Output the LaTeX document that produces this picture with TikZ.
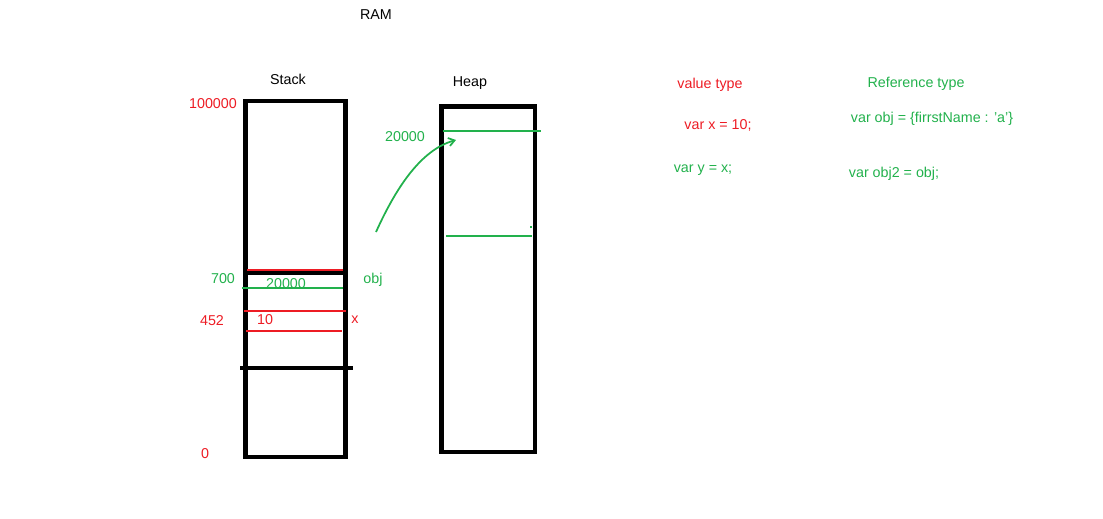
\documentclass[tikz,border=0pt]{standalone}
\usepackage{fontspec}
\setmainfont{Liberation Sans}
\usetikzlibrary{arrows.meta}
\definecolor{rouge}{RGB}{237,28,36}
\definecolor{vert}{RGB}{34,177,76}

\begin{document}
\begin{tikzpicture}[x=0.03cm,y=-0.03cm,
   bloc/.style={draw,line width=3.6pt},
   ligne rouge/.style={draw=rouge,line width=1.7pt},
   ligne verte/.style={draw=vert,line width=1.7pt},
   separation/.style={draw,line width=3.6pt},
   etiquette/.style={inner sep=0pt,font=\fontsize{12.2}{14}\selectfont},
   rouge txt/.style={etiquette,text=rouge},
   vert txt/.style={etiquette,text=vert}]

  \useasboundingbox (0,0) rectangle (1103,518);

  % titres
  \node[etiquette](ram) at (376,15) {RAM};
  \node[etiquette](stack) at (288,79) {Stack};
  \node[etiquette](heap) at (470,83) {Heap};

  % stack
  \draw[bloc] (245.5,101) rectangle (345.5,457);
  \draw[ligne rouge] (247,270) -- (343,270);
  \draw[separation] (245.5,273) -- (345.5,273);
  \draw[ligne verte] (242,288) -- (343,288);
  \draw[ligne rouge] (244,311) -- (346,311);
  \draw[ligne rouge] (246,331) -- (342,331);
  \draw[separation] (240,368) -- (353,368);

  \node[rouge txt](adr haut) at (213,104) {100000};
  \node[rouge txt](adr bas) at (205,454) {0};
  \node[vert txt](adr obj) at (223,279) {700};
  \node[rouge txt](adr x) at (212,321) {452};
  \node[vert txt](val obj) at (286,284) {20000};
  \node[rouge txt](val x) at (265,320) {10};
  \node[vert txt](nom obj) at (373,280) {obj};
  \node[rouge txt](nom x) at (355,320) {x};

  % heap
  \draw[bloc] (441.5,106.5) rectangle (535,452);
  \draw[ligne verte] (443,131) -- (541,131);
  \draw[ligne verte] (446,236) -- (532,236);
  \fill[vert] (530,226) rectangle (532,228);
  \node[vert txt](adr tas) at (405,137) {20000};

  % fleche
  \coordinate (pointeur) at (376,232);
  \coordinate (cible) at (456,140);
  \draw[vert,line width=1.5pt,-{Straight Barb[length=5pt,width=7pt]}]
    (pointeur) .. controls (395,190) and (420,150) .. (cible);

  % code
  \node[rouge txt](titre valeur) at (710,85) {value type};
  \node[rouge txt](var x) at (718,125) {var x = 10;};
  \node[vert txt](var y) at (703,170) {var y = x;};
  \node[vert txt](titre ref) at (916,84) {Reference type};
  \node[vert txt](var obj) at (932,119) {var obj = \{firrstName : 'a'\}};
  \node[vert txt](var obj2) at (894,174) {var obj2 = obj;};
\end{tikzpicture}
\end{document}
